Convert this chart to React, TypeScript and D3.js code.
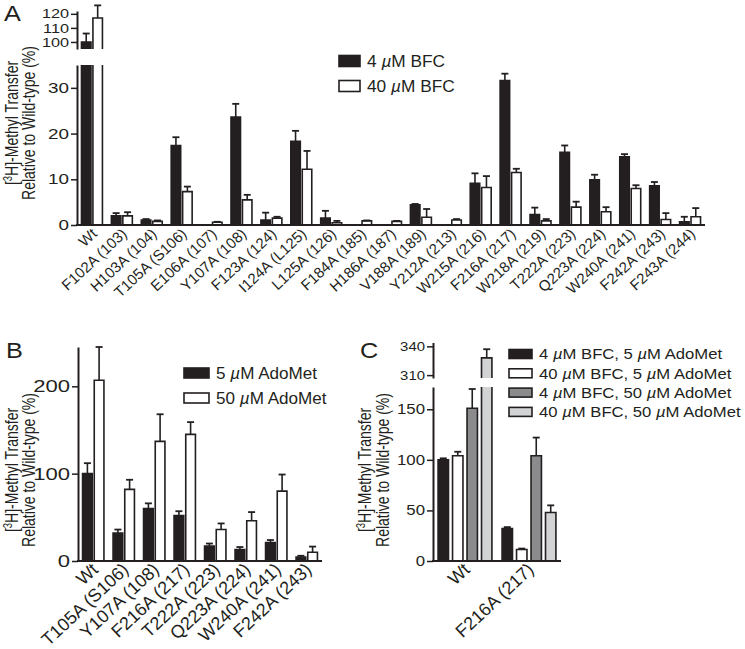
import React, { useEffect, useRef } from "react";
import * as d3 from "d3";

const FONT = "'Liberation Sans', Arial, Helvetica, sans-serif";
const INK = "#231f20";

// ---- panel A : 4 vs 40 uM BFC
const mutantsA = ["Wt", "F102A (103)", "H103A (104)", "T105A (S106)", "E106A (107)", "Y107A (108)",
  "F123A (124)", "I124A (L125)", "L125A (126)", "F184A (185)", "H186A (187)", "V188A (189)",
  "Y212A (213)", "W215A (216)", "F216A (217)", "W218A (219)", "T222A (223)", "Q223A (224)",
  "W240A (241)", "F242A (243)", "F243A (244)"];
const bfc4 = [100, 2.0, 1.1, 17.4, 0, 23.6, 1.1, 18.3, 1.5, 0, 0, 4.4, 0, 9.1, 31.6, 2.3, 15.9, 9.9, 14.9, 8.6, 0.7];
const bfc4Err = [6, 0.6, 0.2, 1.8, 0, 2.9, 1.6, 2.3, 1.6, 0, 0, 0.2, 0, 2.2, 1.5, 1.5, 1.5, 1.1, 0.6, 0.8, 1.1];
const bfc40 = [117, 2.0, 0.8, 7.3, 0.6, 5.5, 1.5, 12.2, 0.5, 0.9, 0.8, 1.7, 1.1, 8.2, 11.5, 0.9, 3.9, 2.9, 8.0, 1.2, 1.8];
const bfc40Err = [9, 0.8, 0.2, 1.1, 0.1, 1.1, 0.3, 4.0, 0.4, 0.1, 0.1, 1.8, 0.2, 2.5, 0.8, 0.4, 1.2, 1.0, 0.7, 1.4, 1.9];
const ticksALow = [0, 10, 20, 30];
const ticksAHigh = [100, 110, 120];
const legendA = ["4 |µ|M BFC", "40 |µ|M BFC"];

// ---- panel B : 5 vs 50 uM AdoMet
const mutantsB = ["Wt", "T105A (S106)", "Y107A (108)", "F216A (217)", "T222A (223)", "Q223A (224)", "W240A (241)", "F242A (243)"];
const ado5 = [100, 32, 60, 52, 17, 13, 21, 4.5];
const ado5Err = [12, 4, 6, 5, 3, 3, 3, 1.5];
const ado50 = [207, 82, 137, 145, 36, 46, 80, 10];
const ado50Err = [38, 11, 31, 14, 7, 10, 19, 6.5];
const ticksB = [0, 100, 200];
const legendB = ["5 |µ|M AdoMet", "50 |µ|M AdoMet"];

// ---- panel C : both
const mutantsC = ["Wt", "F216A (217)"];
const c4b5 = [100, 32];
const c4b5Err = [1.5, 1.5];
const c40b5 = [104, 11.3];
const c40b5Err = [4, 1];
const c4b50 = [151, 104];
const c4b50Err = [19, 18];
const c40b50 = [328, 48];
const c40b50Err = [9, 7];
const ticksCLow = [0, 50, 100, 150];
const ticksCHigh = [310, 340];
const legendC = ["4 |µ|M BFC, 5 |µ|M AdoMet", "40 |µ|M BFC, 5 |µ|M AdoMet", "4 |µ|M BFC, 50 |µ|M AdoMet", "40 |µ|M BFC, 50 |µ|M AdoMet"];

const BLACK = "#231f20";
const WHITE = "#ffffff";
const DARK = "#8b8b8d";
const LIGHT = "#d2d3d4";

// the figure's lettering is wider than plain Helvetica, so some text gets a horizontal stretch
function richText(sel, str) {
  str.split("|").forEach((part, i) => {
    const t = sel.append("tspan").text(part);
    if (i % 2 == 1) t.attr("font-style", "italic");
  });
}

function drawPanel(svg, p) {
  const g = svg.append("g");
  const x = d3.scaleBand().domain(p.cats).range([p.x0, p.x1]);
  const xi = d3.scaleBand()
    .domain(p.series.map((s, i) => String(i)))
    .range([0, x.bandwidth()])
    .paddingInner(p.pi)
    .paddingOuter(p.po);
  const scales = p.segs.map(s => d3.scaleLinear().domain([s.lo, s.hi]).range([s.bottom, s.top]));

  // bars
  p.series.forEach((sr, si) => {
    sr.values.forEach((v, ci) => {
      if (v <= 0) return;
      const bx = x(p.cats[ci]) + xi(String(si));
      const w = xi.bandwidth();
      p.segs.forEach((s, k) => {
        if (k > 0 && v <= s.lo) return;
        const sc = scales[k];
        const yb = sc(s.lo);
        const isTop = v <= s.hi || k == p.segs.length - 1;
        const yt = sc(isTop ? v : s.hi);
        g.append("rect")
          .attr("x", bx).attr("y", yt)
          .attr("width", w).attr("height", Math.max(0, yb - yt))
          .attr("fill", sr.fill);
        const d = `M${bx},${yb}V${yt}` + (isTop ? `H${bx + w}` : `M${bx + w},${yt}`) + `V${yb}`;
        g.append("path").attr("d", d).attr("fill", "none").attr("stroke", INK).attr("stroke-width", 1.6);
      });
      // error bar
      const e = sr.errs[ci];
      if (e > 0) {
        let k = p.segs.findIndex(s => v <= s.hi);
        if (k < 0) k = p.segs.length - 1;
        const sc = scales[k];
        const cx = bx + w / 2;
        g.append("line").attr("x1", cx).attr("x2", cx).attr("y1", sc(v)).attr("y2", sc(v + e))
          .attr("stroke", INK).attr("stroke-width", 1.6);
        g.append("line").attr("x1", cx - 3.5).attr("x2", cx + 3.5).attr("y1", sc(v + e)).attr("y2", sc(v + e))
          .attr("stroke", INK).attr("stroke-width", 1.8);
      }
    });
  });

  // y axes (one per segment for the broken axis)
  p.segs.forEach((s, i) => {
    const ax = g.append("g")
      .attr("transform", `translate(${p.x0},0)`)
      .call(d3.axisLeft(scales[i]).tickValues(s.ticks).tickSize(6).tickSizeOuter(0).tickFormat(d3.format("d")));
    ax.select(".domain").attr("stroke", INK).attr("stroke-width", 2);
    ax.selectAll(".tick line").attr("stroke", INK).attr("stroke-width", 1.5);
    ax.selectAll("text")
      .attr("font-size", s.font).attr("font-family", FONT).attr("fill", INK)
      .attr("x", -8 / s.sx)
      .attr("transform", `scale(${s.sx},1)`);
  });

  // x axis line
  const yb = p.segs[0].bottom;
  g.append("line").attr("x1", p.x0 - 1).attr("x2", p.x1).attr("y1", yb).attr("y2", yb)
    .attr("stroke", INK).attr("stroke-width", 2);

  // category labels
  g.selectAll(".xlab").data(p.cats).enter().append("text")
    .attr("class", "xlab")
    .attr("transform", d => `translate(${x(d) + x.bandwidth() / 2 + 6},${yb + 10}) rotate(-43)`)
    .attr("text-anchor", "end")
    .attr("font-family", FONT)
    .attr("font-size", p.labFont)
    .attr("fill", INK)
    .text(d => d);

  // y title
  const t = g.append("text")
    .attr("transform", `translate(${p.titleX},${p.titleY}) scale(1.25,1) rotate(-90)`)
    .attr("text-anchor", "middle")
    .attr("font-family", FONT).attr("font-size", 14).attr("fill", INK);
  t.append("tspan").text("[");
  t.append("tspan").attr("dy", -5).attr("font-size", 9.5).text("3");
  t.append("tspan").attr("dy", 5).text("H]-Methyl Transfer");
  g.append("text")
    .attr("transform", `translate(${p.titleX + p.titleGap},${p.titleY}) scale(1.25,1) rotate(-90)`)
    .attr("text-anchor", "middle")
    .attr("font-family", FONT).attr("font-size", 14).attr("fill", INK)
    .text("Relative to Wild-type (%)");

  // panel letter
  g.append("text").attr("transform", `translate(${p.letterX},${p.letterY}) scale(1.15,1)`)
    .attr("font-family", FONT).attr("font-size", 22).attr("fill", INK).text(p.letter);

  // legend
  p.legend.forEach((lab, i) => {
    const ly = p.legY + i * p.legStep;
    g.append("rect").attr("x", p.legX).attr("y", ly - p.swH / 2)
      .attr("width", p.swW).attr("height", p.swH)
      .attr("fill", p.series[i].fill).attr("stroke", INK).attr("stroke-width", 1.6);
    const tx = g.append("text")
      .attr("transform", `translate(${p.legX + p.swW + 7},${ly + p.legFont * 0.36}) scale(${p.legSx},1)`)
      .attr("font-family", FONT).attr("font-size", p.legFont).attr("fill", INK);
    richText(tx, lab);
  });
}

export default function App() {
  const ref = useRef(null);

  useEffect(() => {
    const svg = d3.select(ref.current);
    svg.selectAll("*").remove();

    drawPanel(svg, {
      cats: mutantsA, x0: 77, x1: 705, pi: 0.17, po: 0.39, labFont: 15,
      series: [
        { values: bfc4, errs: bfc4Err, fill: BLACK },
        { values: bfc40, errs: bfc40Err, fill: WHITE },
      ],
      segs: [
        { lo: 0, hi: 35, bottom: 225, top: 65, ticks: ticksALow, font: 14.5, sx: 1.3 },
        { lo: 95, hi: 122, bottom: 49, top: 11, ticks: ticksAHigh, font: 13, sx: 1.25 },
      ],
      titleX: 18, titleGap: 17, titleY: 123, letter: "A", letterX: 4, letterY: 21,
      legend: legendA, legX: 339, legY: 61, legStep: 25, swW: 21, swH: 11, legFont: 16, legSx: 1.08,
    });

    drawPanel(svg, {
      cats: mutantsB, x0: 78, x1: 322, pi: 0.17, po: 0.39, labFont: 18,
      series: [
        { values: ado5, errs: ado5Err, fill: BLACK },
        { values: ado50, errs: ado50Err, fill: WHITE },
      ],
      segs: [
        { lo: 0, hi: 245, bottom: 561, top: 347, ticks: ticksB, font: 17, sx: 1.3 },
      ],
      titleX: 18, titleGap: 17, titleY: 470, letter: "B", letterX: 6, letterY: 358,
      legend: legendB, legX: 184, legY: 373, legStep: 25, swW: 25, swH: 10, legFont: 16, legSx: 1.07,
    });

    drawPanel(svg, {
      cats: mutantsC, x0: 433, x1: 561, pi: 0.28, po: 0.35, labFont: 18,
      series: [
        { values: c4b5, errs: c4b5Err, fill: BLACK },
        { values: c40b5, errs: c40b5Err, fill: WHITE },
        { values: c4b50, errs: c4b50Err, fill: DARK },
        { values: c40b50, errs: c40b50Err, fill: LIGHT },
      ],
      segs: [
        { lo: 0, hi: 172, bottom: 561, top: 387, ticks: ticksCLow, font: 14, sx: 1.2 },
        { lo: 307, hi: 344, bottom: 378, top: 342.5, ticks: ticksCHigh, font: 13, sx: 1.15 },
      ],
      titleX: 371, titleGap: 18, titleY: 470, letter: "C", letterX: 360, letterY: 358,
      legend: legendC, legX: 509, legY: 354, legStep: 19.3, swW: 23, swH: 9, legFont: 14.5, legSx: 1.15,
    });
  }, []);

  return (
    <div style={{ position: "absolute", left: 0, top: 0 }}>
      <svg ref={ref} width={745} height={649} style={{ display: "block", background: "#fff" }} />
    </div>
  );
}
